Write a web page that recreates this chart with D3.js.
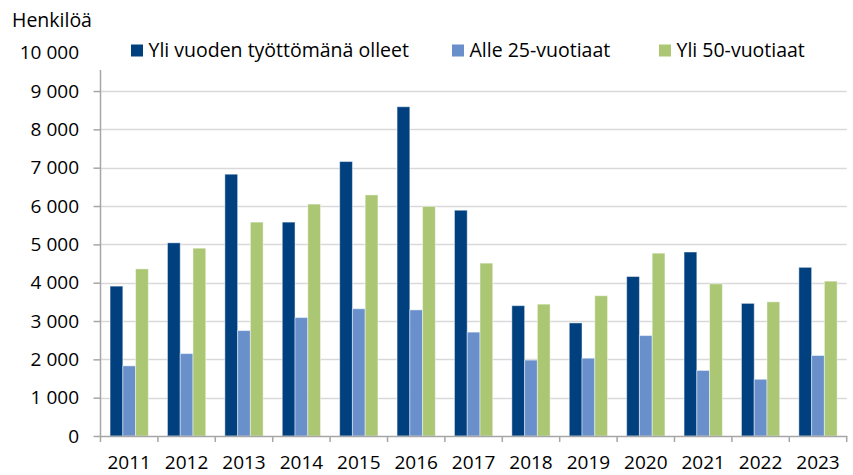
<!DOCTYPE html>
<html>
<head>
<meta charset="utf-8">
<script src="https://cdn.jsdelivr.net/npm/d3@7"></script>
<style>
  body { margin: 0; background: #fff; }
  text { font-family: "Open Sans", Lato, sans-serif; fill: #000; }
</style>
</head>
<body>
<div id="chart"></div>
<script>
(function() {
    // Values
    var years = ['2011', '2012', '2013', '2014', '2015', '2016', '2017', '2018', '2019', '2020', '2021', '2022', '2023'];
    var seriesNames = ['Yli vuoden työttömänä olleet', 'Alle 25-vuotiaat', 'Yli 50-vuotiaat'];
    var longTerm = [3910, 5040, 6830, 5580, 7160, 8590, 5890, 3400, 2950, 4160, 4800, 3460, 4400];
    var under25 = [1830, 2150, 2750, 3090, 3320, 3290, 2710, 1980, 2030, 2620, 1710, 1480, 2100];
    var over50 = [4360, 4900, 5580, 6050, 6290, 5990, 4510, 3440, 3660, 4770, 3970, 3500, 4040];
    var yTicks = [0, 1000, 2000, 3000, 4000, 5000, 6000, 7000, 8000, 9000, 10000];
    var colors = ['#00407f', '#6990cb', '#abc774'];

    var width = 853;
    var height = 475;
    var margin = { top: 52.7, right: 6.3, bottom: 39, left: 100.5 };
    var fontSize = '19px';

    var svg = d3.select('#chart')
        .append('svg')
        .attr('width', width)
        .attr('height', height);

    var xScale = d3.scaleBand()
        .domain(years)
        .range([margin.left, width - margin.right])
        .padding(0);

    // gap width 150 % like the original spreadsheet chart
    var xInner = d3.scaleBand()
        .domain(seriesNames)
        .range([0, xScale.bandwidth()])
        .paddingInner(0)
        .paddingOuter(0.75);

    var yScale = d3.scaleLinear()
        .domain([0, 10000])
        .range([height - margin.bottom, margin.top]);

    var fmt = function(v) { return d3.format(',')(v).replace(/,/g, ' '); };

    // Gridlines (none at the top value)
    svg.append('g')
        .selectAll('line')
        .data(yTicks.filter(d => d > 0 && d < 10000))
        .enter()
        .append('line')
        .attr('x1', margin.left)
        .attr('x2', width - margin.right)
        .attr('y1', d => Math.round(yScale(d)) + 0.5)
        .attr('y2', d => Math.round(yScale(d)) + 0.5)
        .attr('stroke', '#d9d9d9')
        .attr('stroke-width', 1.5);

    // Bars
    var table = years.map((y, i) => ({ year: y, values: [longTerm[i], under25[i], over50[i]] }));

    svg.append('g')
        .selectAll('g')
        .data(table)
        .enter()
        .append('g')
        .attr('transform', d => `translate(${xScale(d.year)}, 0)`)
        .selectAll('rect')
        .data(d => d.values.map((v, k) => ({ name: seriesNames[k], value: v, k: k })))
        .enter()
        .append('rect')
        .attr('x', d => xInner(d.name))
        .attr('width', xInner.bandwidth())
        .attr('y', d => yScale(d.value))
        .attr('height', d => yScale(0) - yScale(d.value))
        .attr('fill', d => colors[d.k])
        .attr('stroke', 'rgba(255,255,255,0.45)')
        .attr('stroke-width', 1);

    // Y axis
    var yAxis = svg.append('g')
        .attr('transform', `translate(${margin.left}, 0)`)
        .call(d3.axisLeft(yScale).tickValues(yTicks).tickFormat(fmt).tickSize(7).tickPadding(14.5));
    yAxis.select('.domain').remove();
    yAxis.selectAll('line').attr('stroke', '#a6a6a6').attr('stroke-width', 1.5)
        .filter(d => d === 10000).remove();
    yAxis.selectAll('text').style('font-size', fontSize).attr('font-family', null);
    svg.append('line')
        .attr('x1', margin.left).attr('x2', margin.left)
        .attr('y1', 70).attr('y2', yScale(0) + 0.5)
        .attr('stroke', '#a6a6a6').attr('stroke-width', 1.5);

    // X axis
    var xAxis = svg.append('g')
        .attr('transform', `translate(0, ${yScale(0)})`)
        .call(d3.axisBottom(xScale).tickSize(0).tickPadding(19.5));
    xAxis.select('.domain').attr('stroke', '#a6a6a6').attr('stroke-width', 1.5);
    xAxis.selectAll('text').style('font-size', fontSize).attr('font-family', null);
    svg.append('g')
        .selectAll('line')
        .data(years.concat(['end']))
        .enter()
        .append('line')
        .attr('x1', (d, i) => margin.left + i * xScale.step())
        .attr('x2', (d, i) => margin.left + i * xScale.step())
        .attr('y1', yScale(0))
        .attr('y2', yScale(0) + 6)
        .attr('stroke', '#a6a6a6')
        .attr('stroke-width', 1.5);

    // Y axis title
    svg.append('text')
        .attr('x', 12)
        .attr('y', 27)
        .style('font-size', '19.5px')
        .text('Henkilöä');

    // Legend
    var legendX = [131, 452, 659];
    var legend = svg.append('g')
        .selectAll('g')
        .data(seriesNames)
        .enter()
        .append('g')
        .attr('transform', (d, i) => `translate(${legendX[i]}, 0)`);
    legend.append('rect')
        .attr('x', 0)
        .attr('y', 44.5)
        .attr('width', 12)
        .attr('height', 12)
        .attr('fill', (d, i) => colors[i]);
    legend.append('text')
        .attr('x', 17.5)
        .attr('y', 56.7)
        .style('font-size', '19.5px')
        .text(d => d);
})();
</script>
</body>
</html>
